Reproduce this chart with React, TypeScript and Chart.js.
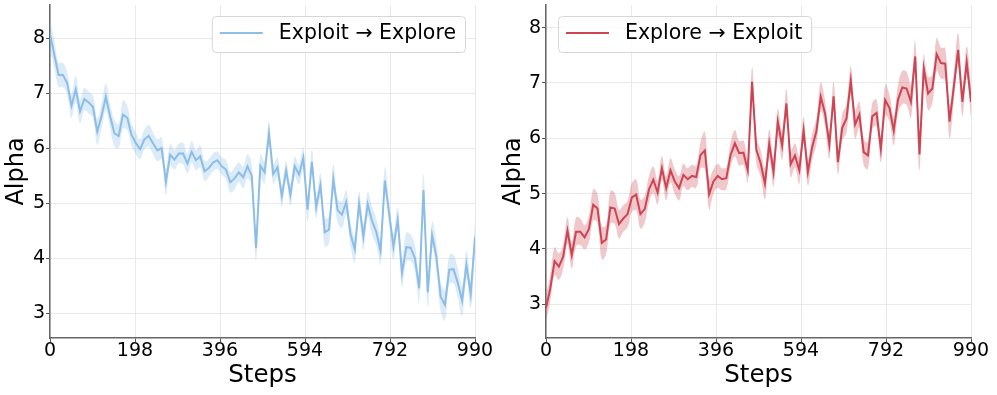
import React, { useEffect, useRef } from "react";
import { Chart, registerables } from "chart.js";

Chart.register(...registerables);

const steps = [
  0, 10, 20, 30, 40, 50, 60, 70, 80, 90,
  100, 110, 120, 130, 140, 150, 160, 170, 180, 190,
  200, 210, 220, 230, 240, 250, 260, 270, 280, 290,
  300, 310, 320, 330, 340, 350, 360, 370, 380, 390,
  400, 410, 420, 430, 440, 450, 460, 470, 480, 490,
  500, 510, 520, 530, 540, 550, 560, 570, 580, 590,
  600, 610, 620, 630, 640, 650, 660, 670, 680, 690,
  700, 710, 720, 730, 740, 750, 760, 770, 780, 790,
  800, 810, 820, 830, 840, 850, 860, 870, 880, 890,
  900, 910, 920, 930, 940, 950, 960, 970, 980, 990,
];

const xTicks = [0, 198, 396, 594, 792, 990];
const yTicks = [3, 4, 5, 6, 7, 8];

const exploitMean = [
  8.07, 7.7, 7.33, 7.33, 7.18, 6.77, 7.07, 6.67, 6.89, 6.83,
  6.75, 6.3, 6.58, 6.93, 6.58, 6.27, 6.22, 6.61, 6.55, 6.24,
  6.09, 5.98, 6.16, 6.22, 6.09, 5.96, 6.0, 5.39, 5.88, 5.79,
  5.9, 5.9, 5.72, 5.93, 5.78, 5.85, 5.58, 5.64, 5.74, 5.78,
  5.67, 5.61, 5.38, 5.45, 5.56, 5.47, 5.67, 5.5, 4.18, 5.68,
  5.56, 6.27, 5.53, 5.65, 5.13, 5.59, 5.15, 5.67, 5.52, 5.82,
  4.88, 5.75, 4.93, 5.33, 4.47, 4.52, 5.44, 4.87, 4.79, 5.02,
  4.44, 4.16, 4.99, 4.39, 4.98, 4.68, 4.48, 4.13, 5.41, 4.81,
  4.21, 4.7, 3.73, 4.2, 4.19, 4.0, 3.45, 5.24, 3.38, 4.42,
  4.03, 3.3, 3.15, 3.79, 3.8, 3.55, 3.23, 3.88, 3.35, 4.39,
];
const exploitStd = [
  0.28, 0.25, 0.22, 0.22, 0.2, 0.22, 0.24, 0.22, 0.2, 0.2,
  0.2, 0.24, 0.22, 0.24, 0.22, 0.24, 0.22, 0.26, 0.22, 0.2,
  0.2, 0.18, 0.18, 0.2, 0.2, 0.2, 0.2, 0.24, 0.2, 0.18,
  0.18, 0.2, 0.18, 0.2, 0.18, 0.2, 0.18, 0.16, 0.16, 0.16,
  0.16, 0.18, 0.18, 0.2, 0.18, 0.2, 0.22, 0.2, 0.22, 0.22,
  0.2, 0.22, 0.18, 0.18, 0.2, 0.18, 0.2, 0.18, 0.18, 0.2,
  0.22, 0.22, 0.2, 0.22, 0.26, 0.24, 0.26, 0.22, 0.24, 0.22,
  0.22, 0.24, 0.22, 0.24, 0.22, 0.26, 0.24, 0.24, 0.24, 0.22,
  0.24, 0.22, 0.26, 0.26, 0.24, 0.24, 0.26, 0.28, 0.26, 0.24,
  0.26, 0.26, 0.28, 0.26, 0.26, 0.26, 0.28, 0.26, 0.26, 0.3,
];

const exploreMean = [
  2.93, 3.29, 3.78, 3.68, 3.86, 4.33, 3.89, 4.31, 4.31, 4.21,
  4.36, 4.8, 4.73, 4.11, 4.17, 4.75, 4.73, 4.45, 4.55, 4.63,
  4.93, 4.98, 4.63, 4.72, 5.08, 5.25, 5.02, 5.46, 5.1, 5.42,
  5.22, 5.1, 5.34, 5.26, 5.32, 5.3, 5.7, 5.78, 4.99, 5.22,
  5.32, 5.26, 5.28, 5.7, 5.91, 5.73, 5.74, 5.42, 7.02, 5.79,
  5.55, 5.18, 5.9, 5.39, 6.3, 5.87, 6.63, 5.53, 5.69, 5.42,
  6.14, 5.39, 5.84, 6.13, 6.75, 6.45, 5.89, 6.76, 5.57, 6.19,
  6.36, 7.04, 6.25, 6.43, 5.75, 5.69, 6.4, 6.46, 5.81, 6.69,
  6.55, 6.14, 6.7, 6.92, 6.9, 6.66, 7.48, 5.71, 7.26, 6.81,
  6.9, 7.52, 7.36, 7.35, 6.3, 6.93, 7.6, 6.66, 7.38, 6.66,
];
const exploreStd = [
  0.25, 0.24, 0.25, 0.24, 0.22, 0.24, 0.24, 0.26, 0.24, 0.22,
  0.24, 0.28, 0.26, 0.3, 0.26, 0.3, 0.28, 0.26, 0.24, 0.24,
  0.26, 0.28, 0.26, 0.24, 0.24, 0.24, 0.22, 0.22, 0.22, 0.22,
  0.22, 0.22, 0.2, 0.2, 0.2, 0.2, 0.24, 0.34, 0.28, 0.22,
  0.22, 0.2, 0.2, 0.22, 0.24, 0.22, 0.22, 0.22, 0.26, 0.24,
  0.24, 0.28, 0.26, 0.26, 0.24, 0.26, 0.26, 0.24, 0.22, 0.24,
  0.24, 0.24, 0.24, 0.24, 0.26, 0.24, 0.26, 0.26, 0.22, 0.24,
  0.26, 0.26, 0.26, 0.24, 0.24, 0.24, 0.24, 0.24, 0.24, 0.28,
  0.24, 0.26, 0.26, 0.3, 0.3, 0.3, 0.28, 0.3, 0.26, 0.3,
  0.26, 0.3, 0.28, 0.28, 0.3, 0.26, 0.3, 0.26, 0.28, 0.3,
];

const FONT = '"DejaVu Sans", "Liberation Sans", sans-serif';

const boxLegend = {
  id: "boxLegend",
  afterDatasetsDraw(chart: any, _args: any, opts: any) {
    const { ctx, chartArea } = chart;
    ctx.save();
    ctx.font = `20.5px ${FONT}`;
    const tw = ctx.measureText(opts.text).width;
    const padL = 8, lineLen = 43, gap = 16, padR = 9, h = 36;
    const w = padL + lineLen + gap + tw + padR;
    const x = opts.align === "right" ? chartArea.right - 10 - w : chartArea.left + 12;
    const y = chartArea.top + 11;
    ctx.beginPath();
    ctx.roundRect(x + 0.5, y + 0.5, w, h, 4);
    ctx.fillStyle = "rgba(255,255,255,0.85)";
    ctx.fill();
    ctx.strokeStyle = "#d6d6d6";
    ctx.lineWidth = 1;
    ctx.stroke();
    ctx.beginPath();
    ctx.strokeStyle = opts.color;
    ctx.lineWidth = 2;
    ctx.moveTo(x + padL, y + h / 2 - 1);
    ctx.lineTo(x + padL + lineLen, y + h / 2 - 1);
    ctx.stroke();
    ctx.fillStyle = "#000";
    ctx.textBaseline = "middle";
    ctx.textAlign = "left";
    ctx.fillText(opts.text, x + padL + lineLen + gap, y + h / 2);
    ctx.restore();
  },
};

type PanelProps = {
  left: number;
  width: number;
  yWidth: number;
  padRight: number;
  mean: number[];
  std: number[];
  yMin: number;
  yMax: number;
  line: string;
  band: string;
  label: string;
  legendAlign: string;
};

function Panel(p: PanelProps) {
  const ref = useRef<HTMLCanvasElement>(null);
  useEffect(() => {
    const lower = steps.map((s, i) => ({ x: s, y: p.mean[i] - p.std[i] }));
    const upper = steps.map((s, i) => ({ x: s, y: p.mean[i] + p.std[i] }));
    const mid = steps.map((s, i) => ({ x: s, y: p.mean[i] }));
    const chart = new Chart(ref.current as HTMLCanvasElement, {
      type: "line",
      data: {
        datasets: [
          { data: lower, borderWidth: 0, pointRadius: 0, fill: false, tension: 0.4, borderColor: "transparent" },
          { data: upper, borderWidth: 0, pointRadius: 0, fill: "-1", tension: 0.4, borderColor: "transparent", backgroundColor: p.band },
          { data: mid, borderWidth: 2, pointRadius: 0, fill: false, tension: 0, borderColor: p.line, label: p.label },
        ],
      },
      options: {
        animation: false,
        responsive: false,
        devicePixelRatio: 1,
        layout: { padding: { left: 0, right: p.padRight, top: 5, bottom: 0 } },
        plugins: {
          legend: { display: false },
          tooltip: { enabled: false },
          boxLegend: { text: p.label, color: p.line, align: p.legendAlign },
        } as any,
        scales: {
          x: {
            type: "linear",
            min: 0,
            max: 990,
            afterBuildTicks: (s: any) => { s.ticks = xTicks.map((v) => ({ value: v })); },
            afterFit: (s: any) => { s.height = 57; s.paddingLeft = 0; s.paddingRight = 0; },
            ticks: { font: { family: FONT, size: 19, lineHeight: 1 }, color: "#000", padding: 0, maxRotation: 0, autoSkip: false },
            grid: { color: "#e9e9e9", lineWidth: 1, tickLength: 4, tickColor: "#555", drawTicks: true },
            border: { color: "#666", width: 1.5 },
            title: { display: true, text: "Steps", font: { family: FONT, size: 24.5 }, color: "#000", padding: { top: 0, bottom: 5 } },
          },
          y: {
            type: "linear",
            min: p.yMin,
            max: p.yMax,
            afterBuildTicks: (s: any) => { s.ticks = yTicks.map((v) => ({ value: v })); },
            afterFit: (s: any) => { s.width = p.yWidth; s.paddingTop = 0; s.paddingBottom = 0; },
            ticks: { font: { family: FONT, size: 19, lineHeight: 1 }, color: "#000", padding: 1 },
            grid: { color: "#e9e9e9", lineWidth: 1, tickLength: 4, tickColor: "#555", drawTicks: true },
            border: { color: "#666", width: 1.5 },
            title: { display: true, text: "Alpha", font: { family: FONT, size: 24 }, color: "#000", padding: { top: 2, bottom: 0 } },
          },
        },
      },
      plugins: [boxLegend],
    } as any);
    return () => chart.destroy();
  }, []);
  return (
    <canvas
      ref={ref}
      width={p.width}
      height={395}
      style={{ position: "absolute", left: p.left, top: 0, width: p.width, height: 395 }}
    />
  );
}

export default function App() {
  return (
    <div style={{ position: "absolute", left: 0, top: 0, width: 997, height: 395, background: "#fff" }}>
      <Panel
        left={0}
        width={497}
        yWidth={50}
        padRight={22}
        mean={exploitMean}
        std={exploitStd}
        yMin={2.55}
        yMax={8.6}
        line="rgb(140,190,232)"
        band="rgba(140,190,232,0.3)"
        label="Exploit → Explore"
        legendAlign="right"
      />
      <Panel
        left={497}
        width={500}
        yWidth={49}
        padRight={26}
        mean={exploreMean}
        std={exploreStd}
        yMin={2.39}
        yMax={8.41}
        line="rgb(205,68,84)"
        band="rgba(205,68,84,0.3)"
        label="Explore → Exploit"
        legendAlign="left"
      />
    </div>
  );
}
